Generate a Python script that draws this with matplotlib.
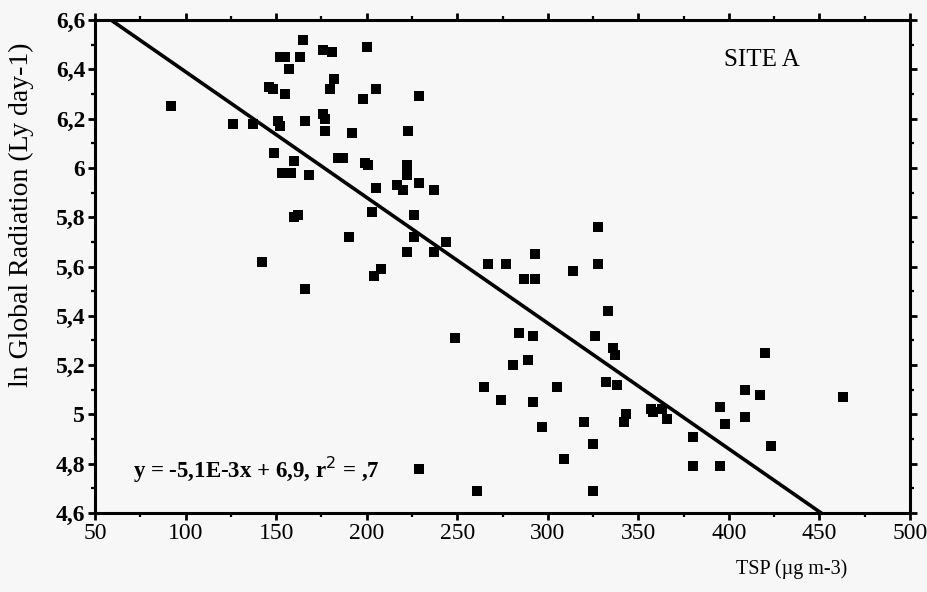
import matplotlib
matplotlib.use("Agg")
import matplotlib.pyplot as plt
from matplotlib.ticker import FixedLocator, MultipleLocator

# TSP concentration (ug m-3) and ln of global radiation (Ly day-1), site A
tsp = [92, 126, 137, 146, 148, 152, 155, 149, 151, 152, 155, 157, 153, 158,
       160, 168, 165, 163, 176, 181, 182, 180, 176, 177, 177, 166, 184, 187,
       192, 200, 198, 199, 201, 205, 205, 203, 190, 160, 162, 142, 166, 208,
       204, 217, 220, 223, 222, 222, 226, 226, 222, 229, 237, 237, 229, 244,
       249, 267, 277, 287, 293, 293, 314, 328, 328, 333,
       284, 292, 326, 336, 337, 289, 281, 265, 305, 332, 338, 274, 292, 343,
       342, 320, 357, 297, 325, 309, 261, 325, 229, 420, 358, 363, 366, 409,
       417, 463, 395, 398, 409, 380, 423, 380, 395]
ln_rad = [6.25, 6.18, 6.18, 6.33, 6.32, 6.45, 6.45, 6.06, 6.19, 6.17, 6.30, 6.40, 5.98, 5.98,
          6.03, 5.97, 6.52, 6.45, 6.48, 6.47, 6.36, 6.32, 6.22, 6.20, 6.15, 6.19, 6.04, 6.04,
          6.14, 6.49, 6.28, 6.02, 6.01, 6.32, 5.92, 5.82, 5.72, 5.80, 5.81, 5.62, 5.51, 5.59,
          5.56, 5.93, 5.91, 6.15, 6.01, 5.97, 5.81, 5.72, 5.66, 5.94, 5.91, 5.66, 6.29, 5.70,
          5.31, 5.61, 5.61, 5.55, 5.65, 5.55, 5.58, 5.61, 5.76, 5.42,
          5.33, 5.32, 5.32, 5.27, 5.24, 5.22, 5.20, 5.11, 5.11, 5.13, 5.12, 5.06, 5.05, 5.00,
          4.97, 4.97, 5.02, 4.95, 4.88, 4.82, 4.69, 4.69, 4.78, 5.25, 5.01, 5.02, 4.98, 5.10,
          5.08, 5.07, 5.03, 4.96, 4.99, 4.91, 4.87, 4.79, 4.79]

# fitted regression: y = -5.1E-3 x + 6.9
slope = -5.1e-3
intercept = 6.9

x_ticks = [50, 100, 150, 200, 250, 300, 350, 400, 450, 500]
y_ticks = [4.6, 4.8, 5.0, 5.2, 5.4, 5.6, 5.8, 6.0, 6.2, 6.4, 6.6]
y_tick_labels = ["4,6", "4,8", "5", "5,2", "5,4", "5,6", "5,8", "6", "6,2", "6,4", "6,6"]

serif = "Liberation Serif"
plt.rcParams["font.family"] = [serif, "DejaVu Serif"]

fig = plt.figure(figsize=(9.28, 5.92), dpi=100, facecolor="#f7f7f7")
ax = fig.add_axes([0.1024, 0.1334, 0.8782, 0.8328])
ax.set_facecolor("#f7f7f7")

ax.scatter(tsp, ln_rad, marker="s", s=52, color="black", linewidths=0, zorder=3)

fit_x = [50, 500]
fit_y = [intercept + slope * v for v in fit_x]
ax.plot(fit_x, fit_y, color="black", lw=2.6, zorder=4, solid_capstyle="butt")

ax.set_xlim(50, 500)
ax.set_ylim(4.6, 6.6)

ax.xaxis.set_major_locator(FixedLocator(x_ticks))
ax.set_xticklabels([str(v) for v in x_ticks])
ax.xaxis.set_minor_locator(MultipleLocator(25))
ax.yaxis.set_major_locator(FixedLocator(y_ticks))
ax.set_yticklabels(y_tick_labels)
ax.yaxis.set_minor_locator(MultipleLocator(0.1))

for s in ax.spines.values():
    s.set_linewidth(2.2)
    s.set_color("black")

ax.tick_params(axis="both", which="major", direction="out", length=5, width=2,
               labelsize=17, pad=2, colors="black")
ax.tick_params(axis="both", which="minor", direction="out", length=3, width=1.6)
ax.tick_params(top=True, right=True, which="both")
ax.tick_params(labeltop=False, labelright=False)
for lab in ax.get_yticklabels():
    lab.set_fontweight("bold")

ax.set_ylabel("ln Global Radiation (Ly day-1)", fontsize=20, va="center")
ax.yaxis.set_label_coords(-0.09, 0.604)
fig.text(0.853, 0.022, "TSP (\u00b5g m-3)", fontsize=14.5, ha="center", va="bottom")

ax.text(0.818, 0.919, "SITE A", transform=ax.transAxes, fontsize=18,
        ha="center", va="center")
ax.text(0.046, 0.087, "y = -5,1E-3x + 6,9, r$^2$ = ,7", transform=ax.transAxes,
        fontsize=16.5, fontweight="bold", ha="left", va="center")

fig.savefig("out.png", dpi=100, facecolor=fig.get_facecolor())
